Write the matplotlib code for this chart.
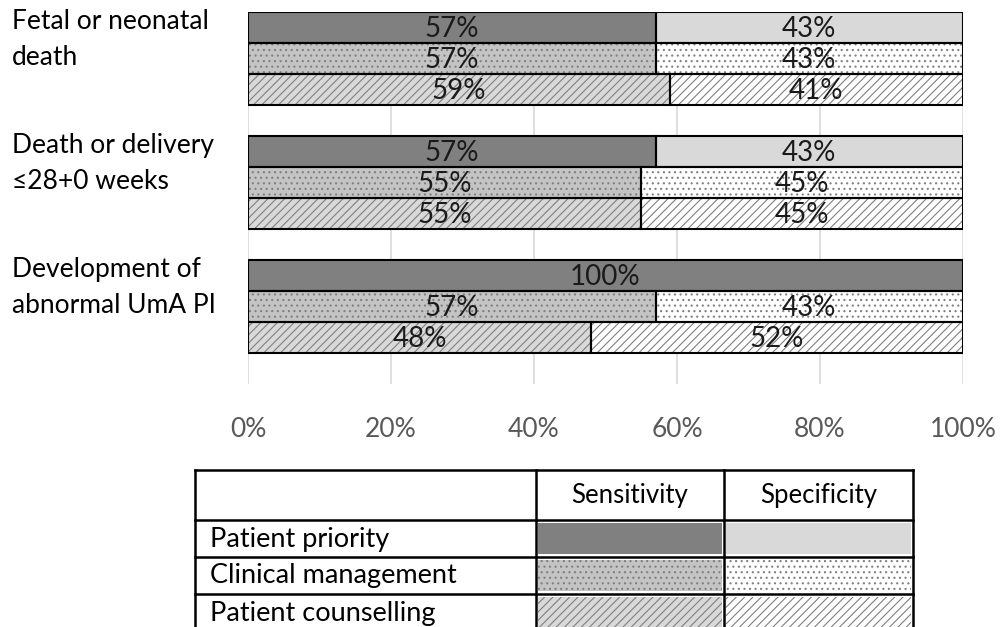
import numpy as np
import matplotlib.pyplot as plt
import matplotlib.transforms as mtransforms
from matplotlib.patches import Rectangle

plt.rcParams['font.family'] = ['Lato', 'DejaVu Sans']
plt.rcParams['hatch.linewidth'] = 0.8

# ==================== data ====================
outcomes = ["Fetal or neonatal\ndeath", "Death or delivery\n≤28+0 weeks", "Development of\nabnormal UmA PI"]
series_names = ["Patient priority", "Clinical management", "Patient counselling"]
column_names = ["Sensitivity", "Specificity"]

priority_sens = [57, 57, 100]
priority_spec = [43, 43, 0]
management_sens = [57, 55, 57]
management_spec = [43, 45, 43]
counselling_sens = [59, 55, 48]
counselling_spec = [41, 45, 52]

x_ticks = [0, 20, 40, 60, 80, 100]

# ==================== styles ====================
hatch_grey = '#808080'
styles = [
    # (sens face, spec face, hatch)
    ('#808080', '#d9d9d9', None),
    ('#c4c4c4', '#ffffff', '...'),
    ('#d9d9d9', '#ffffff', '////'),
]
sens_all = [priority_sens, management_sens, counselling_sens]
spec_all = [priority_spec, management_spec, counselling_spec]
offsets = [-0.25, 0.0, 0.25]
bar_h = 0.25

W, H = 1002, 627
fig = plt.figure(figsize=(W / 100, H / 100), dpi=100)
ax = fig.add_axes([248 / W, 1 - 384 / H, 715 / W, 372 / H])

groups = np.arange(len(outcomes))


def draw_bar(y, width, left, face, hatch):
    ax.barh(y, width, left=left, height=bar_h, color=face, hatch=hatch,
            edgecolor=hatch_grey, linewidth=0, zorder=2)
    ax.barh(y, width, left=left, height=bar_h, fill=False,
            edgecolor='black', linewidth=1.5, zorder=3)


for i in range(len(series_names)):
    y = groups + offsets[i]
    sens = np.array(sens_all[i])
    spec = np.array(spec_all[i])
    sface, pface, hatch = styles[i]
    draw_bar(y, sens, 0, sface, hatch)
    keep = spec > 0
    draw_bar(y[keep], spec[keep], sens[keep], pface, hatch)
    for yy, s, p in zip(y, sens, spec):
        if s > 0:
            ax.text(s / 2, yy + 0.01, f"{s}%", ha='center', va='center',
                    fontsize=20, color='#1a1a1a', zorder=4)
        if p > 0:
            ax.text(s + p / 2, yy + 0.01, f"{p}%", ha='center', va='center',
                    fontsize=20, color='#1a1a1a', zorder=4)

ax.set_xlim(0, 100)
ax.set_ylim(2.625, -0.375)
ax.set_xticks(x_ticks)
ax.set_xticklabels([f"{t}%" for t in x_ticks], fontsize=19, color='#595959')
ax.set_yticks([])
ax.tick_params(axis='x', length=0, pad=24)
ax.grid(axis='x', color='#d9d9d9', linewidth=1.2, zorder=0)
ax.set_axisbelow(True)
for s in ax.spines.values():
    s.set_visible(False)

# category labels on the left
trans = mtransforms.blended_transform_factory(ax.transAxes, ax.transData)
for g, label in zip(groups, outcomes):
    ax.text(-0.330, g - 0.15, label, transform=trans, ha='left', va='center',
            fontsize=19, color='black', linespacing=1.55)

# ==================== table legend ====================
tax = fig.add_axes([195 / W, (H - 631) / H, 718 / W, 161 / H])
tax.set_xlim(0, 718)
tax.set_ylim(161, 0)
tax.axis('off')

col_x = [0, 341, 529, 718]
row_y = [0, 50, 87, 124, 161]
lw = 1.8
for x in col_x:
    tax.plot([x, x], [0, 161], color='black', lw=lw, clip_on=False)
for y in row_y[:-1]:
    tax.plot([0, 718], [y, y], color='black', lw=lw, clip_on=False)

for j, name in enumerate(column_names):
    tax.text((col_x[j + 1] + col_x[j + 2]) / 2, 25, name, ha='center', va='center',
             fontsize=18.5, color='black')

for i, name in enumerate(series_names):
    top = row_y[i + 1]
    tax.text(15, top + 19, name, ha='left', va='center', fontsize=19.5, color='black')
    faces = styles[i][:2]
    for j in range(2):
        x0 = col_x[j + 1]
        tax.add_patch(Rectangle((x0 + 2, top + 3), col_x[j + 2] - x0 - 4, 31,
                                facecolor=faces[j], hatch=styles[i][2],
                                edgecolor=hatch_grey, linewidth=0))

fig.savefig('out.png', dpi=100)
